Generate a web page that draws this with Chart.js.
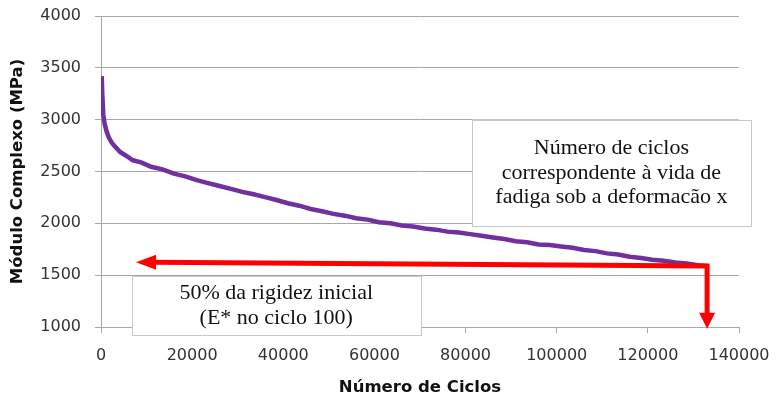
<!DOCTYPE html>
<html>
<head>
<meta charset="utf-8">
<script src="https://cdn.jsdelivr.net/npm/chart.js@4"></script>
<style>
  html, body { margin: 0; padding: 0; background: #fff; }
  #wrap { width: 780px; height: 400px; }
</style>
</head>
<body>
<div id="wrap"><canvas id="fatigueChart"></canvas></div>
<script>
const cycles = [
  150, 300, 500, 800, 1200, 1700, 2400, 3200, 4200, 5500, 7000, 8800,
  11000, 13500, 16000, 18500, 21000, 23500, 26000, 28500, 31000, 33500,
  36000, 38500, 41000, 43500, 46000, 48500, 51000, 53500, 56000, 58500,
  61000, 63500, 66000, 68500, 71000, 73500, 76000, 78500, 81000, 83500,
  86000, 88500, 91000, 93500, 96000, 98500, 101000, 103500, 106000, 108500,
  111000, 113500, 116000, 118500, 121000, 123500, 126000, 128500, 131000, 132800
];

const modulus = [
  3420, 3230, 3050, 2960, 2890, 2830, 2775, 2735, 2688, 2652, 2608, 2588,
  2546, 2521, 2480, 2453, 2416, 2388, 2360, 2333, 2303, 2280,
  2253, 2225, 2194, 2170, 2138, 2117, 2091, 2074, 2049, 2036,
  2010, 2000, 1980, 1970, 1950, 1939, 1920, 1912, 1896, 1880,
  1863, 1848, 1828, 1817, 1796, 1791, 1776, 1764, 1743, 1732,
  1710, 1699, 1678, 1666, 1648, 1639, 1623, 1612, 1596, 1588
];

// arrows: [x, y] tail (shared corner) and tips, in axis units
const arrowCorner = [133000, 1588];
const arrowLeftTip = [7700, 1625];
const arrowDownTip = [133000, 982];

// text boxes: x range, y range (top, bottom), lines
const noteLife = {
  x: [81400, 142600], y: [3000, 1974],
  lines: ['Número de ciclos', 'correspondente à vida de', 'fadiga sob a deformacão x']
};
const noteStiffness = {
  x: [6750, 70150], y: [1490, 923],
  lines: ['50% da rigidez inicial', '(E* no ciclo 100)']
};

const points = cycles.map((c, i) => ({ x: c, y: modulus[i] }));

function drawArrowHead(ctx, fx, fy, tx, ty, len, half) {
  const a = Math.atan2(ty - fy, tx - fx);
  ctx.beginPath();
  ctx.moveTo(tx, ty);
  ctx.lineTo(tx - len * Math.cos(a) + half * Math.sin(a), ty - len * Math.sin(a) - half * Math.cos(a));
  ctx.lineTo(tx - len * Math.cos(a) - half * Math.sin(a), ty - len * Math.sin(a) + half * Math.cos(a));
  ctx.closePath();
  ctx.fill();
}

function drawNote(ctx, xs, ys, note) {
  const l = xs.getPixelForValue(note.x[0]);
  const r = xs.getPixelForValue(note.x[1]);
  const t = ys.getPixelForValue(note.y[0]);
  const b = ys.getPixelForValue(note.y[1]);
  ctx.fillStyle = '#ffffff';
  ctx.fillRect(l, t, r - l, b - t);
  ctx.strokeStyle = '#c8c8c8';
  ctx.lineWidth = 1;
  ctx.strokeRect(Math.round(l) + 0.5, Math.round(t) + 0.5, Math.round(r - l), Math.round(b - t));
  ctx.fillStyle = '#111111';
  ctx.font = '22px "Liberation Serif", "Times New Roman", serif';
  ctx.textAlign = 'center';
  ctx.textBaseline = 'middle';
  const lh = 24.5;
  const cy = (t + b) / 2 - (note.lines.length - 1) * lh / 2;
  note.lines.forEach((s, i) => ctx.fillText(s, (l + r) / 2, cy + i * lh));
}

const notesPlugin = {
  id: 'notes',
  afterDraw(chart) {
    const ctx = chart.ctx;
    const xs = chart.scales.x;
    const ys = chart.scales.y;
    ctx.save();
    drawNote(ctx, xs, ys, noteLife);
    drawNote(ctx, xs, ys, noteStiffness);

    const cx = xs.getPixelForValue(arrowCorner[0]);
    const cy = ys.getPixelForValue(arrowCorner[1]);
    const lx = xs.getPixelForValue(arrowLeftTip[0]);
    const ly = ys.getPixelForValue(arrowLeftTip[1]);
    const dx = xs.getPixelForValue(arrowDownTip[0]);
    const dy = ys.getPixelForValue(arrowDownTip[1]);
    ctx.strokeStyle = '#ff0000';
    ctx.fillStyle = '#ff0000';
    ctx.lineWidth = 5;
    ctx.lineJoin = 'miter';
    ctx.beginPath();
    ctx.moveTo(lx + 16, ly + (cy - ly) * 16 / (cx - lx));
    ctx.lineTo(cx, cy);
    ctx.lineTo(dx, dy - 14);
    ctx.stroke();
    drawArrowHead(ctx, cx, cy, lx, ly, 20, 7.5);
    drawArrowHead(ctx, cx, cy, dx, dy, 16, 8);
    ctx.restore();
  }
};

new Chart(document.getElementById('fatigueChart'), {
  type: 'scatter',
  data: {
    datasets: [{
      data: points,
      showLine: true,
      borderColor: '#7030a0',
      backgroundColor: '#7030a0',
      borderWidth: 4.5,
      pointRadius: 0,
      tension: 0
    }]
  },
  options: {
    responsive: true,
    maintainAspectRatio: false,
    animation: false,
    layout: { padding: 0 },
    plugins: {
      legend: { display: false },
      tooltip: { enabled: false }
    },
    scales: {
      x: {
        type: 'linear',
        min: 0,
        max: 140000,
        afterFit: (scale) => {
          scale.height = 73;
          scale.paddingLeft = 0;
          scale.paddingRight = 41;
        },
        ticks: {
          stepSize: 20000,
          padding: 13,
          color: '#333333',
          font: { family: 'DejaVu Sans', size: 16 },
          maxRotation: 0,
          callback: (v) => String(v)
        },
        grid: {
          drawOnChartArea: false,
          drawTicks: true,
          tickLength: 6,
          color: '#a6a6a6'
        },
        border: { display: true, color: '#a6a6a6' },
        title: {
          display: true,
          text: 'Número de Ciclos',
          color: '#111111',
          font: { family: 'DejaVu Sans', size: 16.5, weight: 'bold' },
          padding: { top: 6, bottom: 2 }
        }
      },
      y: {
        min: 1000,
        max: 4000,
        afterFit: (scale) => {
          scale.width = 101;
          scale.paddingTop = 16;
          scale.paddingBottom = 0;
        },
        ticks: {
          stepSize: 500,
          padding: 14,
          color: '#333333',
          font: { family: 'DejaVu Sans', size: 16 },
          callback: (v) => String(v)
        },
        grid: {
          color: '#a6a6a6',
          drawTicks: true,
          tickLength: 6
        },
        border: { display: true, color: '#a6a6a6' },
        title: {
          display: true,
          text: 'Módulo Complexo (MPa)',
          color: '#111111',
          font: { family: 'DejaVu Sans', size: 16.5, weight: 'bold' },
          padding: { top: 8, bottom: 0 }
        }
      }
    }
  },
  plugins: [notesPlugin]
});
</script>
</body>
</html>
